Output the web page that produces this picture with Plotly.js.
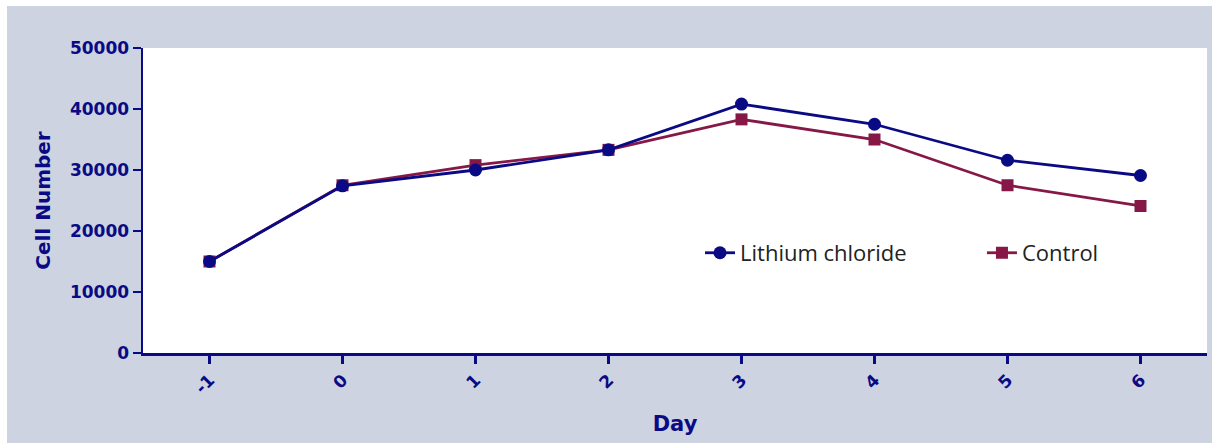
<!DOCTYPE html>
<html>
<head>
<meta charset="utf-8">
<script src="https://cdn.plot.ly/plotly-3.0.1.min.js"></script>
<style>
  html, body { margin: 0; padding: 0; background: #ffffff; width: 1212px; height: 443px; overflow: hidden; }
  #chart { position: absolute; left: 7px; top: 6px; width: 1205px; height: 437px; }
</style>
</head>
<body>
<div id="chart"></div>
<script>
const days = [-1, 0, 1, 2, 3, 4, 5, 6];
const tickLabels = ['-1', '0', '1', '2', '3', '4', '5', '6'];
const lithiumChloride = [15000, 27400, 30000, 33300, 40800, 37500, 31600, 29100];
const control = [15000, 27500, 30800, 33300, 38300, 35000, 27500, 24100];
const yTicks = [0, 10000, 20000, 30000, 40000, 50000];

const navy = '#0a0a85';
const maroon = '#861848';

const legendFont = { family: 'Open Sans, sans-serif', size: 22, color: '#222222' };

const traces = [
  {
    x: days, y: control, name: 'Control', type: 'scatter', mode: 'lines+markers',
    legend: 'legend2',
    line: { color: maroon, width: 2.8 },
    marker: { symbol: 'square', size: 12, color: maroon }
  },
  {
    x: days, y: lithiumChloride, name: 'Lithium chloride', type: 'scatter', mode: 'lines+markers',
    legend: 'legend',
    line: { color: navy, width: 2.8 },
    marker: { symbol: 'circle', size: 13, color: navy }
  }
];

const layout = {
  width: 1205, height: 437,
  margin: { l: 136, r: 5, t: 42, b: 90 },
  paper_bgcolor: '#cdd3e1',
  plot_bgcolor: '#ffffff',
  showlegend: true,
  legend: {
    x: 0.5235, xanchor: 'left', y: 0.328, yanchor: 'middle',
    bgcolor: 'rgba(0,0,0,0)', borderwidth: 0, font: legendFont
  },
  legend2: {
    x: 0.7885, xanchor: 'left', y: 0.328, yanchor: 'middle',
    bgcolor: 'rgba(0,0,0,0)', borderwidth: 0, font: legendFont
  },
  xaxis: {
    range: [-1.5, 6.5],
    tickvals: days, ticktext: tickLabels,
    tickangle: -45,
    ticks: 'outside', ticklen: 8, tickwidth: 2.5, tickcolor: navy,
    showline: true, linecolor: navy, linewidth: 2.5,
    showgrid: false, zeroline: false,
    tickfont: { family: 'DejaVu Sans, sans-serif', size: 17, color: navy, weight: 'bold' },
    title: { text: '<b>Day</b>', font: { family: 'DejaVu Sans, sans-serif', size: 21, color: navy }, standoff: 20 }
  },
  yaxis: {
    range: [0, 50000],
    tickvals: yTicks, ticktext: yTicks.map(String),
    ticks: 'outside', ticklen: 8, tickwidth: 2.5, tickcolor: navy,
    showline: true, linecolor: navy, linewidth: 2.5,
    showgrid: false, zeroline: false,
    tickfont: { family: 'DejaVu Sans, sans-serif', size: 17, color: navy, weight: 'bold' },
    title: { text: '<b>Cell Number</b>', font: { family: 'DejaVu Sans, sans-serif', size: 20, color: navy }, standoff: 14 }
  }
};

Plotly.newPlot('chart', traces, layout, { displayModeBar: false, staticPlot: true });
</script>
</body>
</html>
